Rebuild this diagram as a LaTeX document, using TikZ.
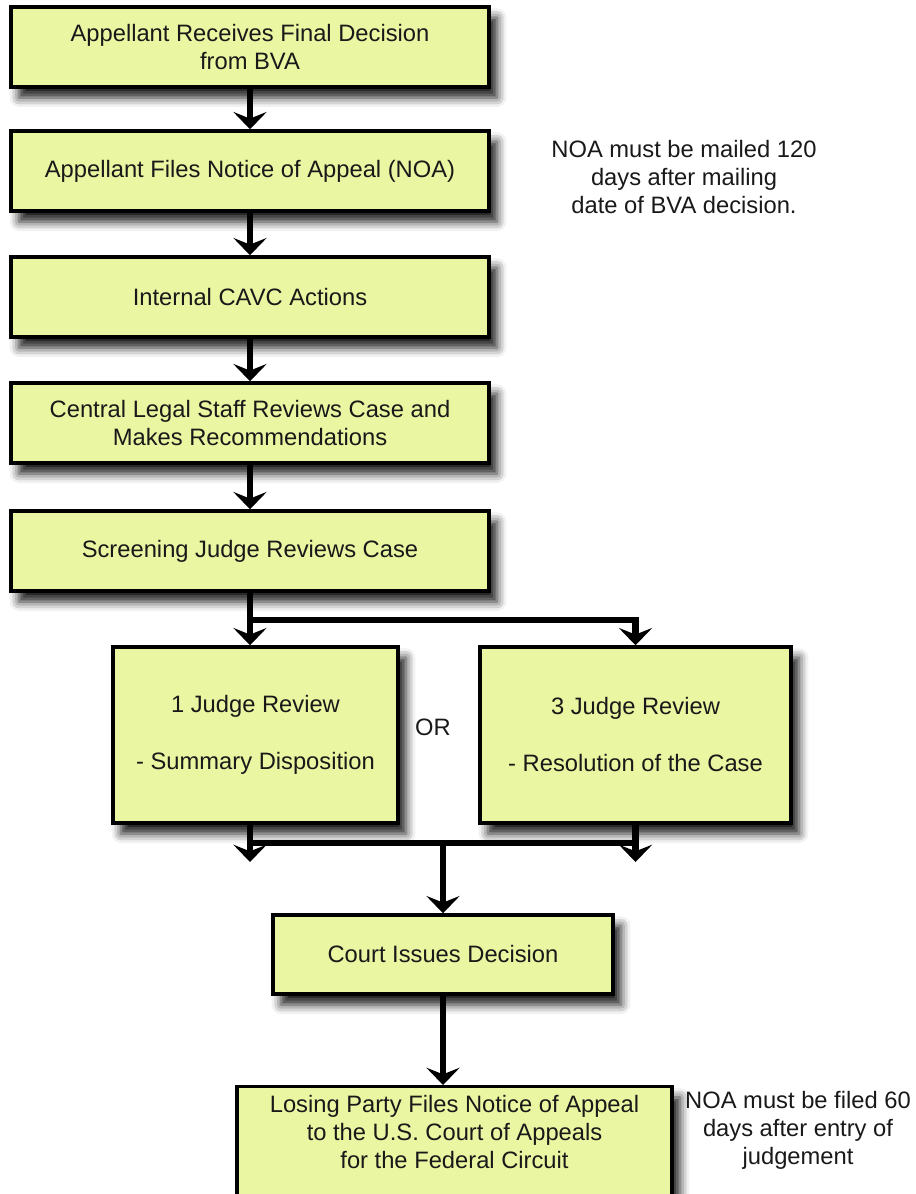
\documentclass[tikz,border=0pt]{standalone}
\usepackage{fontspec}
\setmainfont{Liberation Sans}
\usetikzlibrary{arrows.meta,shadows.blur}
\definecolor{boxfill}{RGB}{234,246,162}
\definecolor{inktext}{RGB}{25,25,25}

\tikzset{
  box/.style={draw=black, line width=2.6pt, fill=boxfill, align=center, text=inktext,
    blur shadow={shadow xshift=6pt, shadow yshift=-8pt, shadow blur radius=7pt, shadow opacity=90}},
  flow/.style={line width=5pt, -{Stealth[length=13pt,width=25pt,inset=5pt]}},
  trunk/.style={line width=5pt, line cap=rect},
  note/.style={align=center, text=inktext}
}

\begin{document}
\begin{tikzpicture}[x=0.75pt,y=-0.75pt,font=\fontsize{17.8}{21}\selectfont]
\useasboundingbox (0,0) rectangle (915,1194);

% main chain
\node[box, minimum width=358.5pt, minimum height=60pt] (receives) at (250,47) {Appellant Receives Final Decision\\from BVA};
\node[box, minimum width=358.5pt, minimum height=60pt] (files) at (250,171) {Appellant Files Notice of Appeal (NOA)};
\node[box, minimum width=358.5pt, minimum height=60pt] (cavc) at (250,297) {Internal CAVC Actions};
\node[box, minimum width=358.5pt, minimum height=60pt] (legal) at (250,423) {Central Legal Staff Reviews Case and\\Makes Recommendations};
\node[box, minimum width=358.5pt, minimum height=60pt] (screen) at (250,551) {Screening Judge Reviews Case};

% the two reviews
\node[box, minimum width=213.75pt, minimum height=132pt] (one) at (255.5,735) {1 Judge Review\\[21.75pt]- Summary Disposition};
\node[box, minimum width=233.25pt, minimum height=132pt] (three) at (635.5,735) {3 Judge Review\\[21.75pt]- Resolution of the Case};
\node[note] (or) at (433,727) {OR};

\node[box, minimum width=255pt, minimum height=59.25pt] (court) at (443,954.5) {Court Issues Decision};
\node[box, anchor=north, minimum width=326.25pt, minimum height=105pt,
  label={[note, anchor=north, yshift=-4pt]north:Losing Party Files Notice of Appeal\\to the U.S. Court of Appeals\\for the Federal Circuit}] (losing) at (454.5,1085) {};

% notes
\node[note] (mailnote) at (684,177) {NOA must be mailed 120\\days after mailing\\date of BVA decision.};
\node[note] (filenote) at (798,1130) {NOA must be filed 60\\days after entry of\\judgement};

% arrows
\draw[flow] (receives) -- (files);
\draw[flow] (files) -- (cavc);
\draw[flow] (cavc) -- (legal);
\draw[flow] (legal) -- (screen);

\coordinate (split) at (250,620);
\draw[flow] (screen.south) -- (split) -| (three.north);
\draw[flow] (split) -- (split |- one.north);

\coordinate (join) at (250,843);
\coordinate (lefttip) at (250,862);
\draw[flow] (one.south -| join) -- (lefttip);
\draw[flow] (three.south) -- (three.south |- lefttip);
\draw[trunk] (join) -- (join -| three.south);
\draw[flow] (join -| court.north) -- (court.north);

\draw[flow] (court.south) -- (court.south |- losing.north);
\end{tikzpicture}
\end{document}
